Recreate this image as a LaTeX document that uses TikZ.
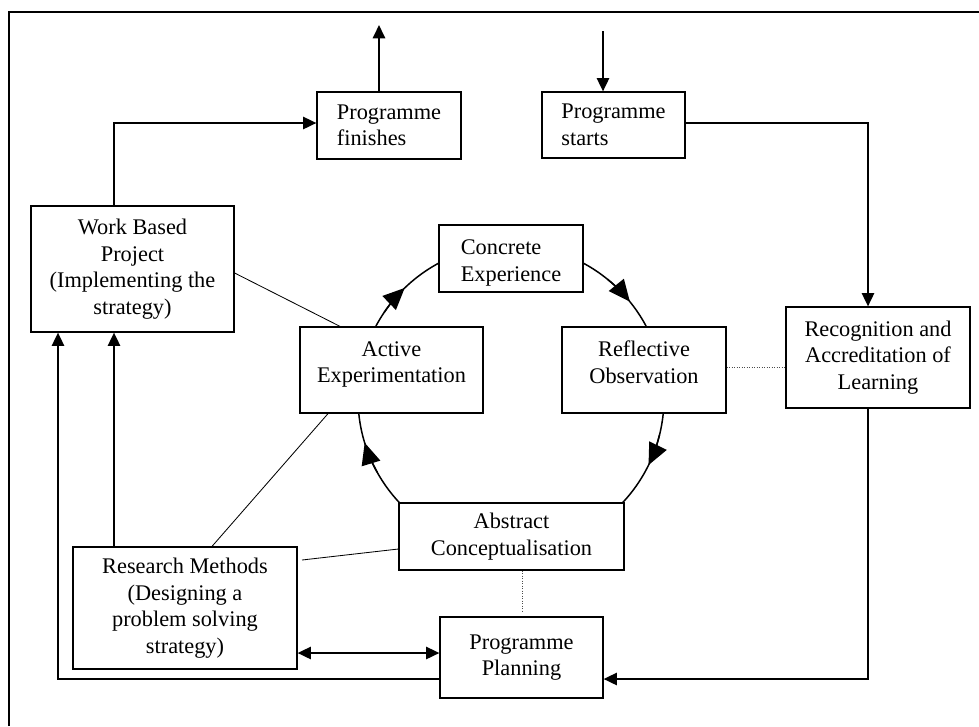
\documentclass[tikz,border=0pt]{standalone}
\usepackage{fontspec}
\setmainfont{Liberation Serif}
\usetikzlibrary{arrows.meta}
\newlength\pxu
\setlength\pxu{0.6pt}
\begin{document}
\begin{tikzpicture}[x=0.6pt,y=-0.6pt,
  box/.style={draw,line width=0.75pt,fill=white,inner sep=0pt,align=center,
    font=\fontsize{13.4}{15.9}\selectfont},
  wh/.style 2 args={minimum width=#1\pxu,minimum height=#2\pxu},
  frameline/.style={line width=1.4pt},
  conn/.style={line width=1.1pt},
  arr/.style={conn,-{Triangle[length=8pt,width=7.4pt]}},
  dbl/.style={conn,{Triangle[length=8pt,width=7.4pt]}-{Triangle[length=8pt,width=7.4pt]}},
  thin/.style={line width=0.5pt},
  dotln/.style={line width=0.5pt,black!70,densely dotted},
  circ/.style={line width=0.9pt},
  circarr/.style={line width=0.9pt,-{Triangle[length=13pt,width=11.5pt]}}
]
\useasboundingbox (0,0) rectangle (979,726);

% frame
\coordinate (fbl) at (9,726);
\coordinate (ftl) at (9,12);
\coordinate (ftr) at (979,12);
\draw[frameline] (fbl) -- (ftl) -- (ftr);

% learning cycle circle
\coordinate (o) at (511,398);
\draw[circ] (o) circle[radius=153\pxu];
\draw[circarr] (o) ++(146:153\pxu) arc[start angle=146,end angle=134,radius=153\pxu];
\draw[circarr] (o) ++(51:153\pxu) arc[start angle=51,end angle=39,radius=153\pxu];
\draw[circarr] (o) ++(-14:153\pxu) arc[start angle=-14,end angle=-26,radius=153\pxu];
\draw[circarr] (o) ++(209:153\pxu) arc[start angle=209,end angle=197,radius=153\pxu];

% boxes
\node[box,wh={144}{67},align=left] (fin) at (389,125.5) {Programme\\finishes};
\node[box,wh={143}{66},align=left] (start) at (613.5,125) {Programme\\starts};
\node[box,wh={203}{126}] (wbp) at (132.5,269) {Work Based\\Project\\(Implementing the\\strategy)};
\node[box,wh={144}{67},align=left] (conc) at (511,258.5) {\rule{0pt}{14pt}Concrete\\Experience};
\node[box,wh={183}{86}] (act) at (391.5,370) {Active\\Experimentation\rule[-16\pxu]{0pt}{0pt}};
\node[box,wh={164}{86}] (refl) at (644,370) {Reflective\\Observation\rule[-16\pxu]{0pt}{0pt}};
\node[box,wh={184}{101}] (rec) at (878,357.5) {Recognition and\\Accreditation of\\Learning};
\node[box,wh={225}{67}] (abs) at (511.5,536.5) {Abstract\\Conceptualisation};
\node[box,wh={224}{122}] (rm) at (185,608) {Research Methods\\(Designing a\\problem solving\\strategy)};
\node[box,wh={163}{81}] (pp) at (521.5,657.5) {Programme\\Planning};

% helper coordinates
\coordinate (finout) at (379,25);
\coordinate (startin) at (603,31);
\coordinate (c1) at (868,123);
\coordinate (c2) at (868,679);
\coordinate (c3) at (58,679);
\coordinate (c4) at (114,0);
\coordinate (c5) at (114,123);
\coordinate (c6) at (0,653);
\coordinate (k0) at (0,273);
\coordinate (k0e) at (340,0);
\coordinate (k1) at (212,0);
\coordinate (k2) at (328,0);
\coordinate (k3) at (302,560);
\coordinate (k4) at (0,549);
\coordinate (k5) at (0,367);
\coordinate (k6) at (522,613);

% connectors
\draw[arr] (finout |- fin.north) -- (finout);
\draw[arr] (startin) -- (startin |- start.north);
\draw[arr] (start.east |- c1) -- (c1) -- (c1 |- rec.north);
\draw[arr] (c1 |- rec.south) -- (c2) -- (c2 -| pp.east);
\draw[arr] (c3 -| pp.west) -- (c3) -- (c3 |- wbp.south);
\draw[arr] (c4 |- rm.north) -- (c4 |- wbp.south);
\draw[arr] (c5 |- wbp.north) -- (c5) -- (c5 -| fin.west);
\draw[dbl] (rm.east |- c6) -- (pp.west |- c6);

% thin links
\draw[thin] (wbp.east |- k0) -- (k0e |- act.north);
\draw[thin] (k1 |- rm.north) -- (k2 |- act.south);
\draw[thin] (k3) -- (abs.west |- k4);
\draw[dotln] (refl.east |- k5) -- (rec.west |- k5);
\draw[dotln] (k6 |- abs.south) -- (k6);
\end{tikzpicture}
\end{document}
